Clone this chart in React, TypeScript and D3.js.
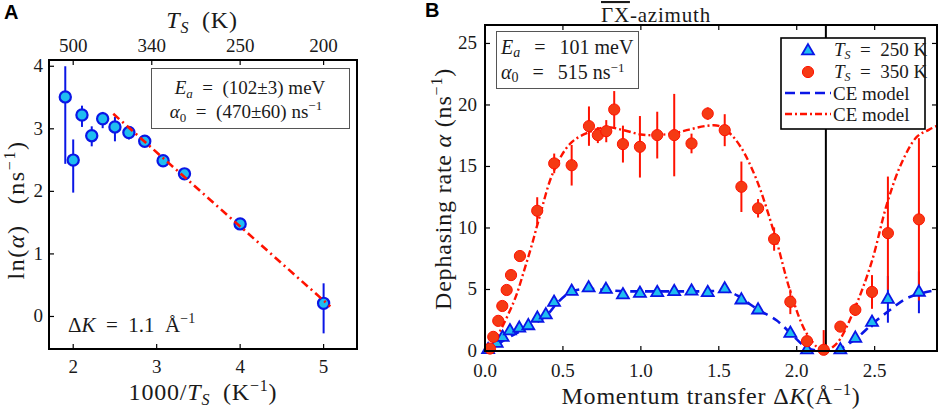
import React from "react";
import * as d3 from "d3";

// ---------- panel A : Arrhenius plot ----------
const aX = [1.905, 2.0, 2.105, 2.222, 2.353, 2.5, 2.667, 2.857, 3.077, 3.333, 4.0, 5.0];
const aY = [3.51, 2.5, 3.22, 2.89, 3.16, 3.03, 2.94, 2.8, 2.49, 2.28, 1.48, 0.21];
const aLo = [2.44, 1.98, 3.03, 2.72, 3.01, 2.8, 2.83, 2.75, 2.45, 2.25, 1.45, -0.27];
const aHi = [4.0, 2.83, 3.37, 3.04, 3.27, 3.19, 3.04, 2.85, 2.53, 2.31, 1.51, 0.53];
const fitX = [2.48, 5.08];
const fitY = [3.24, 0.16];
const aXTicks = [2, 3, 4, 5];
const aYTicks = [0, 1, 2, 3, 4];
const aTopTicks = [500, 340, 250, 200]; // surface temperature in K

// ---------- panel B : dephasing rate vs momentum transfer ----------
const redX = [0.032, 0.053, 0.085, 0.111, 0.139, 0.167, 0.224, 0.335, 0.444, 0.556, 0.667, 0.724, 0.778, 0.829, 0.885, 0.994, 1.105, 1.214, 1.325, 1.429, 1.538, 1.645, 1.752, 1.855, 1.959, 2.066, 2.173, 2.28, 2.376, 2.483, 2.585, 2.784];
const redY = [0.2, 1.15, 2.45, 3.66, 4.96, 6.17, 7.72, 11.4, 15.25, 15.1, 18.28, 17.55, 17.87, 19.63, 16.82, 16.6, 17.55, 17.55, 16.87, 19.3, 17.95, 13.35, 11.6, 9.1, 4.0, 0.8, 0.1, 1.98, 3.35, 4.8, 9.58, 10.7];
const redErr = [0.2, 0.2, 0.2, 0.2, 0.2, 0.2, 0.2, 1.1, 0.8, 1.65, 1.6, 0.65, 0.9, 1.5, 1.5, 2.5, 1.9, 3.35, 0.8, 0.5, 1.3, 2.05, 0.75, 0.95, 1.0, 0.3, 1.6, 0.3, 0.5, 1.37, 4.6, 6.6];

const blueX = [0.02, 0.075, 0.113, 0.16, 0.22, 0.278, 0.336, 0.39, 0.443, 0.556, 0.665, 0.776, 0.885, 0.994, 1.105, 1.214, 1.325, 1.429, 1.538, 1.645, 1.752, 1.959, 2.066, 2.28, 2.376, 2.483, 2.585, 2.784];
const blueY = [0.1, 0.62, 1.1, 1.63, 1.85, 2.05, 2.66, 2.93, 3.95, 4.85, 5.12, 5.0, 4.56, 4.68, 4.74, 4.82, 4.87, 4.74, 5.04, 4.14, 3.33, 1.43, 0.08, 0.08, 1.03, 2.33, 4.2, 4.77];
const blueErr = [0.1, 0.15, 0.2, 0.2, 0.2, 0.2, 0.25, 0.25, 0.3, 0.3, 0.3, 0.25, 0.25, 0.25, 0.25, 0.25, 0.25, 0.25, 0.25, 0.3, 0.3, 0.3, 0.1, 0.1, 0.2, 0.4, 1.9, 1.7];

// CE model curves
const ceRedX = [0, 0.05, 0.1, 0.15, 0.2, 0.25, 0.3, 0.35, 0.44, 0.55, 0.67, 0.78, 0.89, 1.0, 1.1, 1.21, 1.31, 1.42, 1.5, 1.57, 1.64, 1.74, 1.86, 1.96, 2.06, 2.15, 2.185, 2.23, 2.28, 2.38, 2.48, 2.58, 2.67, 2.77, 2.85, 2.9];
const ceRedY = [0, 0.5, 1.7, 3.0, 4.5, 6.5, 8.6, 10.9, 14.6, 16.9, 17.8, 18.2, 17.95, 17.6, 17.55, 17.7, 18.0, 18.3, 18.3, 17.7, 16.6, 14.0, 9.4, 4.8, 1.5, 0.1, 0, 0.3, 1.0, 3.7, 7.2, 12.0, 15.2, 17.4, 18.0, 18.3];
const ceBlueX = [0, 0.05, 0.1, 0.18, 0.29, 0.4, 0.46, 0.55, 0.65, 0.78, 0.9, 1.0, 1.2, 1.4, 1.55, 1.62, 1.7, 1.76, 1.87, 1.96, 2.06, 2.12, 2.185, 2.25, 2.28, 2.38, 2.49, 2.6, 2.7, 2.8, 2.9];
const ceBlueY = [0, 0.3, 0.7, 1.3, 2.0, 2.95, 3.85, 4.8, 5.05, 4.95, 4.85, 4.85, 4.85, 4.85, 4.85, 4.5, 3.8, 3.3, 2.5, 1.45, 0.3, 0.05, 0, 0.05, 0.2, 1.0, 2.25, 3.35, 4.25, 4.7, 4.95];
const zoneBoundary = 2.187; // vertical line
const bXTicks = [0, 0.5, 1, 1.5, 2, 2.5];
const bYTicks = [0, 5, 10, 15, 20, 25];
const legendTemps = ["250 K", "350 K"];

const SERIF = "'Liberation Serif', 'Times New Roman', serif";
const SANS = "'Liberation Sans', Arial, sans-serif";
const TXT = "#1a1a1a";
const CYAN = "#1fbdf0";
const BLUE = "#0a16e6";
const RED = "#ff1200";
const RED_FILL = "#f53a14";
const EQ = "\u2002=\u2002";
const EQW = "\u2002\u2009=\u2002\u2009";

const tri = d3.symbol().type(d3.symbolTriangle).size(62)() as string;

export default function App() {
  // panel A scales
  const ax = d3.scaleLinear().domain([1.71, 5.4]).range([49, 357]);
  const ay = d3.scaleLinear().domain([-0.52, 4.1]).range([349, 60]);
  // panel B scales
  const bx = d3.scaleLinear().domain([0, 2.9]).range([485, 937]);
  const by = d3.scaleLinear().domain([0, 26.5]).range([351, 25]);

  const [ax0, ax1] = ax.range();
  const [ay0, ay1] = ay.range();
  const [bx0, bx1] = bx.range();
  const [by0, by1] = by.range();

  const lineB = d3
    .line<[number, number]>()
    .x((d) => bx(d[0]))
    .y((d) => by(d[1]))
    .curve(d3.curveCatmullRom.alpha(0.5));
  const redPath = lineB(ceRedX.map((x, i) => [x, ceRedY[i]]) as [number, number][]) || "";
  const bluePath = lineB(ceBlueX.map((x, i) => [x, ceBlueY[i]]) as [number, number][]) || "";
  const fitPath =
    d3
      .line<[number, number]>()
      .x((d) => ax(d[0]))
      .y((d) => ay(d[1]))(fitX.map((x, i) => [x, fitY[i]]) as [number, number][]) || "";

  const tickLen = 5;
  const labelStyle = { letterSpacing: "0.8px" };

  return (
    <svg
      width={941}
      height={412}
      style={{ position: "absolute", left: 0, top: 0, background: "#fff" }}
      fontFamily={SERIF}
    >
      <defs>
        <clipPath id="clipB">
          <rect x={bx0} y={by1} width={bx1 - bx0} height={by0 - by1} />
        </clipPath>
      </defs>

      {/* ================= PANEL A ================= */}
      <text x={4} y={19} fontFamily={SANS} fontWeight="bold" fontSize={20} fill="#000">
        A
      </text>

      {/* ticks */}
      {aXTicks.map((t) => (
        <g key={"axt" + t}>
          <line x1={ax(t)} x2={ax(t)} y1={ay0} y2={ay0 - tickLen} stroke="#000" strokeWidth={1.2} />
          <text x={ax(t)} y={373} textAnchor="middle" fontSize={19} fill={TXT}>
            {t}
          </text>
        </g>
      ))}
      {aTopTicks.map((T) => (
        <g key={"att" + T}>
          <line x1={ax(1000 / T)} x2={ax(1000 / T)} y1={ay1} y2={ay1 + tickLen} stroke="#000" strokeWidth={1.2} />
          <text x={ax(1000 / T)} y={52} textAnchor="middle" fontSize={19} fill={TXT}>
            {T}
          </text>
        </g>
      ))}
      {aYTicks.map((t) => (
        <g key={"ayt" + t}>
          <line x1={ax0} x2={ax0 + tickLen} y1={ay(t)} y2={ay(t)} stroke="#000" strokeWidth={1.2} />
          <text x={43} y={ay(t) + 6} textAnchor="end" fontSize={19} fill={TXT}>
            {t}
          </text>
        </g>
      ))}

      {/* axis titles */}
      <text x={202} y={28} textAnchor="middle" fontSize={24} fill={TXT} style={labelStyle}>
        <tspan fontStyle="italic">T</tspan>
        <tspan fontStyle="italic" fontSize={16} dy={5}>S</tspan>
        <tspan dy={-5}>{"\u2002(K)"}</tspan>
      </text>
      <text x={203} y={400} textAnchor="middle" fontSize={24} fill={TXT} style={labelStyle}>
        <tspan>1000/</tspan>
        <tspan fontStyle="italic">T</tspan>
        <tspan fontStyle="italic" fontSize={16} dy={5}>S</tspan>
        <tspan dy={-5}>{"\u2002(K"}</tspan>
        <tspan fontSize={16} dy={-9}>−1</tspan>
        <tspan dy={9}>)</tspan>
      </text>
      <text transform="translate(24,210) rotate(-90)" textAnchor="middle" fontSize={24} fill={TXT} style={{ letterSpacing: "1.6px" }}>
        <tspan>ln(</tspan>
        <tspan fontStyle="italic">α</tspan>
        <tspan>{")\u2002\u2009(ns"}</tspan>
        <tspan fontSize={16} dy={-9}>−1</tspan>
        <tspan dy={9}>)</tspan>
      </text>

      {/* info box */}
      <rect x={151.5} y={68.5} width={198} height={60} fill="#fff" stroke="#555" strokeWidth={1} />
      <text x={250} y={94} textAnchor="middle" fontSize={19} fill={TXT}>
        <tspan fontStyle="italic">E</tspan>
        <tspan fontStyle="italic" fontSize={13} dy={4}>a</tspan>
        <tspan dy={-4}>{EQ + "(102±3) meV"}</tspan>
      </text>
      <text x={246} y={118} textAnchor="middle" fontSize={19} fill={TXT}>
        <tspan fontStyle="italic">α</tspan>
        <tspan fontSize={13} dy={4}>0</tspan>
        <tspan dy={-4}>{EQ + "(470±60) ns"}</tspan>
        <tspan fontSize={13} dy={-8}>−1</tspan>
      </text>
      <text x={68} y={332} fontSize={21} fill={TXT}>
        <tspan>Δ</tspan>
        <tspan fontStyle="italic">K</tspan>
        <tspan>{EQ + "1.1\u2002Å"}</tspan>
        <tspan fontSize={14} dy={-9}>−1</tspan>
      </text>

      {/* data */}
      {aX.map((x, i) => (
        <line key={"aeb" + i} x1={ax(x)} x2={ax(x)} y1={ay(aLo[i])} y2={ay(aHi[i])} stroke={BLUE} strokeWidth={2} />
      ))}
      {aX.map((x, i) => (
        <circle key={"ac" + i} cx={ax(x)} cy={ay(aY[i])} r={5.6} fill={CYAN} stroke={BLUE} strokeWidth={2.2} />
      ))}
      <path d={fitPath} fill="none" stroke={RED} strokeWidth={2.6} strokeDasharray="8 4 2 4" />

      <rect x={ax0} y={ay1} width={ax1 - ax0} height={ay0 - ay1} fill="none" stroke="#000" strokeWidth={2} />

      {/* ================= PANEL B ================= */}
      <text x={425} y={17} fontFamily={SANS} fontWeight="bold" fontSize={20} fill="#000">
        B
      </text>

      <text x={656} y={22} textAnchor="middle" fontSize={21} fill={TXT} style={labelStyle}>
        <tspan textDecoration="overline">ΓX</tspan>
        <tspan>-azimuth</tspan>
      </text>

      {bXTicks.map((t) => (
        <g key={"bxt" + t}>
          <line x1={bx(t)} x2={bx(t)} y1={by0} y2={by0 - tickLen} stroke="#000" strokeWidth={1.2} />
          <line x1={bx(t)} x2={bx(t)} y1={by1} y2={by1 + tickLen} stroke="#000" strokeWidth={1.2} />
          <text x={bx(t)} y={377} textAnchor="middle" fontSize={19} fill={TXT}>
            {d3.format(".1f")(t)}
          </text>
        </g>
      ))}
      {bYTicks.map((t) => (
        <g key={"byt" + t}>
          <line x1={bx0} x2={bx0 + tickLen} y1={by(t)} y2={by(t)} stroke="#000" strokeWidth={1.2} />
          <line x1={bx1} x2={bx1 - tickLen} y1={by(t)} y2={by(t)} stroke="#000" strokeWidth={1.2} />
          <text x={477} y={by(t) + 6} textAnchor="end" fontSize={19} fill={TXT}>
            {t}
          </text>
        </g>
      ))}

      <text x={711} y={404} textAnchor="middle" fontSize={24} fill={TXT} style={labelStyle}>
        <tspan>{"Momentum transfer Δ"}</tspan>
        <tspan fontStyle="italic">K</tspan>
        <tspan>(Å</tspan>
        <tspan fontSize={16} dy={-9}>−1</tspan>
        <tspan dy={9}>)</tspan>
      </text>
      <text transform="translate(451,189) rotate(-90)" textAnchor="middle" fontSize={24} fill={TXT} style={labelStyle}>
        <tspan>Dephasing rate </tspan>
        <tspan fontStyle="italic">α</tspan>
        <tspan> (ns</tspan>
        <tspan fontSize={16} dy={-9}>−1</tspan>
        <tspan dy={9}>)</tspan>
      </text>

      {/* zone boundary */}
      <line x1={bx(zoneBoundary)} x2={bx(zoneBoundary)} y1={by0} y2={by1} stroke="#000" strokeWidth={2} />

      {/* model curves */}
      <g clipPath="url(#clipB)">
        <path d={bluePath} fill="none" stroke={BLUE} strokeWidth={2.6} strokeDasharray="9 6" />
        <path d={redPath} fill="none" stroke={RED} strokeWidth={2.4} strokeDasharray="7 3 2 3" />
      </g>

      {/* error bars */}
      {blueX.map((x, i) => (
        <line key={"beb" + i} x1={bx(x)} x2={bx(x)} y1={by(Math.max(0, blueY[i] - blueErr[i]))} y2={by(blueY[i] + blueErr[i])} stroke={BLUE} strokeWidth={2} />
      ))}
      {redX.map((x, i) => (
        <line key={"reb" + i} x1={bx(x)} x2={bx(x)} y1={by(Math.max(0, redY[i] - redErr[i]))} y2={by(redY[i] + redErr[i])} stroke={RED} strokeWidth={2} />
      ))}
      {/* markers */}
      {blueX.map((x, i) => (
        <path key={"bt" + i} d={tri} transform={`translate(${bx(x)},${by(blueY[i])})`} fill={CYAN} stroke={BLUE} strokeWidth={1.8} />
      ))}
      {redX.map((x, i) => (
        <circle key={"rc" + i} cx={bx(x)} cy={by(redY[i])} r={5.6} fill={RED_FILL} stroke={RED} strokeWidth={1} />
      ))}

      {/* parameter box */}
      <rect x={496.5} y={31.5} width={142} height={57} fill="#fff" stroke="#555" strokeWidth={1} />
      <text x={501} y={54} fontSize={20} fill={TXT}>
        <tspan fontStyle="italic">E</tspan>
        <tspan fontStyle="italic" fontSize={14} dy={3}>a</tspan>
        <tspan dy={-3}>{EQW + "101 meV"}</tspan>
      </text>
      <text x={501} y={79} fontSize={20} fill={TXT}>
        <tspan fontStyle="italic">α</tspan>
        <tspan fontSize={14} dy={3}>0</tspan>
        <tspan dy={-3}>{EQW + "515 ns"}</tspan>
        <tspan fontSize={13} dy={-7}>−1</tspan>
      </text>

      {/* legend */}
      <rect x={781} y={38} width={144} height={91} fill="#fff" stroke="#000" strokeWidth={1.6} />
      <path d={tri} transform="translate(808,51)" fill={CYAN} stroke={BLUE} strokeWidth={1.8} />
      <circle cx={808} cy={72} r={5.6} fill={RED_FILL} stroke={RED} strokeWidth={1} />
      <line x1={785} x2={831} y1={93} y2={93} stroke={BLUE} strokeWidth={2.6} strokeDasharray="10 5" />
      <line x1={785} x2={831} y1={114} y2={114} stroke={RED} strokeWidth={2.4} strokeDasharray="7 3 2 3" />
      {legendTemps.map((lab, k) => (
        <text key={"lg" + lab} x={834} y={56 + k * 22} fontSize={19} fill={TXT}>
          <tspan fontStyle="italic">T</tspan>
          <tspan fontStyle="italic" fontSize={12} dy={3}>S</tspan>
          <tspan dy={-3}>{EQ + lab}</tspan>
        </text>
      ))}
      <text x={833} y={100} fontSize={19} fill={TXT}>CE model</text>
      <text x={833} y={121} fontSize={19} fill={TXT}>CE model</text>

      <rect x={bx0} y={by1} width={bx1 - bx0} height={by0 - by1} fill="none" stroke="#000" strokeWidth={2} />
    </svg>
  );
}
